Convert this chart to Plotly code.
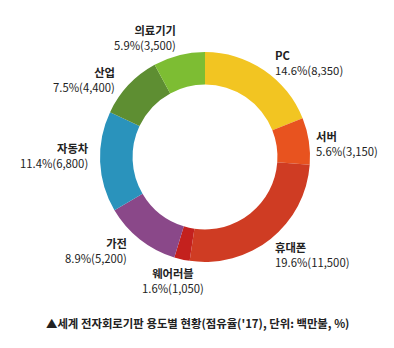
import plotly.graph_objects as go

categories = ["PC", "서버", "휴대폰", "웨어러블", "가전", "자동차", "산업", "의료기기"]
values = [8350, 3150, 11500, 1050, 5200, 6800, 4400, 3500]
shares = [14.6, 5.6, 19.6, 1.6, 8.9, 11.4, 7.5, 5.9]
colors = ["#F2C522", "#E8531F", "#CF3C23", "#C4211E", "#8A4889", "#2A93BC", "#5E8E32", "#7DBD33"]

# label anchor positions (pixels, first-line centre) and alignment
label_pos = [
    (273, 55, "left"), (314, 136, "left"), (273, 247, "left"), (173, 273, "center"),
    (129, 243, "right"), (91, 148, "right"), (117, 72, "right"), (178, 30, "right"),
]

W, H = 394, 348
fig = go.Figure()
fig.add_trace(go.Pie(
    labels=categories, values=values, sort=False, direction="clockwise", rotation=0,
    hole=0.69, marker=dict(colors=colors, line=dict(width=0)),
    textinfo="none", hoverinfo="label+value", showlegend=False,
    domain=dict(x=[100 / W, 310 / W], y=[1 - 262 / H, 1 - 52 / H]),
))

font = "Noto Sans CJK KR"
for cat, val, sh, (px, py, al) in zip(categories, values, shares, label_pos):
    fig.add_annotation(
        x=px / W, y=1 - (py + 7.5) / H, xref="paper", yref="paper",
        xanchor=al, yanchor="middle", showarrow=False, align=al,
        text=f"<b>{cat}</b><br>{sh}%({val:,})",
        font=dict(family=font, size=11.3, color="#222222"),
    )

fig.add_annotation(
    x=198 / W, y=1 - 323 / H, xref="paper", yref="paper", xanchor="center", yanchor="middle",
    showarrow=False, text="<b>▲세계 전자회로기판 용도별 현황(점유율('17), 단위: 백만불, %)</b>",
    font=dict(family=font, size=11.4, color="#222222"),
)

fig.update_layout(
    width=W, height=H, margin=dict(l=0, r=0, t=0, b=0),
    paper_bgcolor="white", plot_bgcolor="white",
)
fig.write_html("out.html")
